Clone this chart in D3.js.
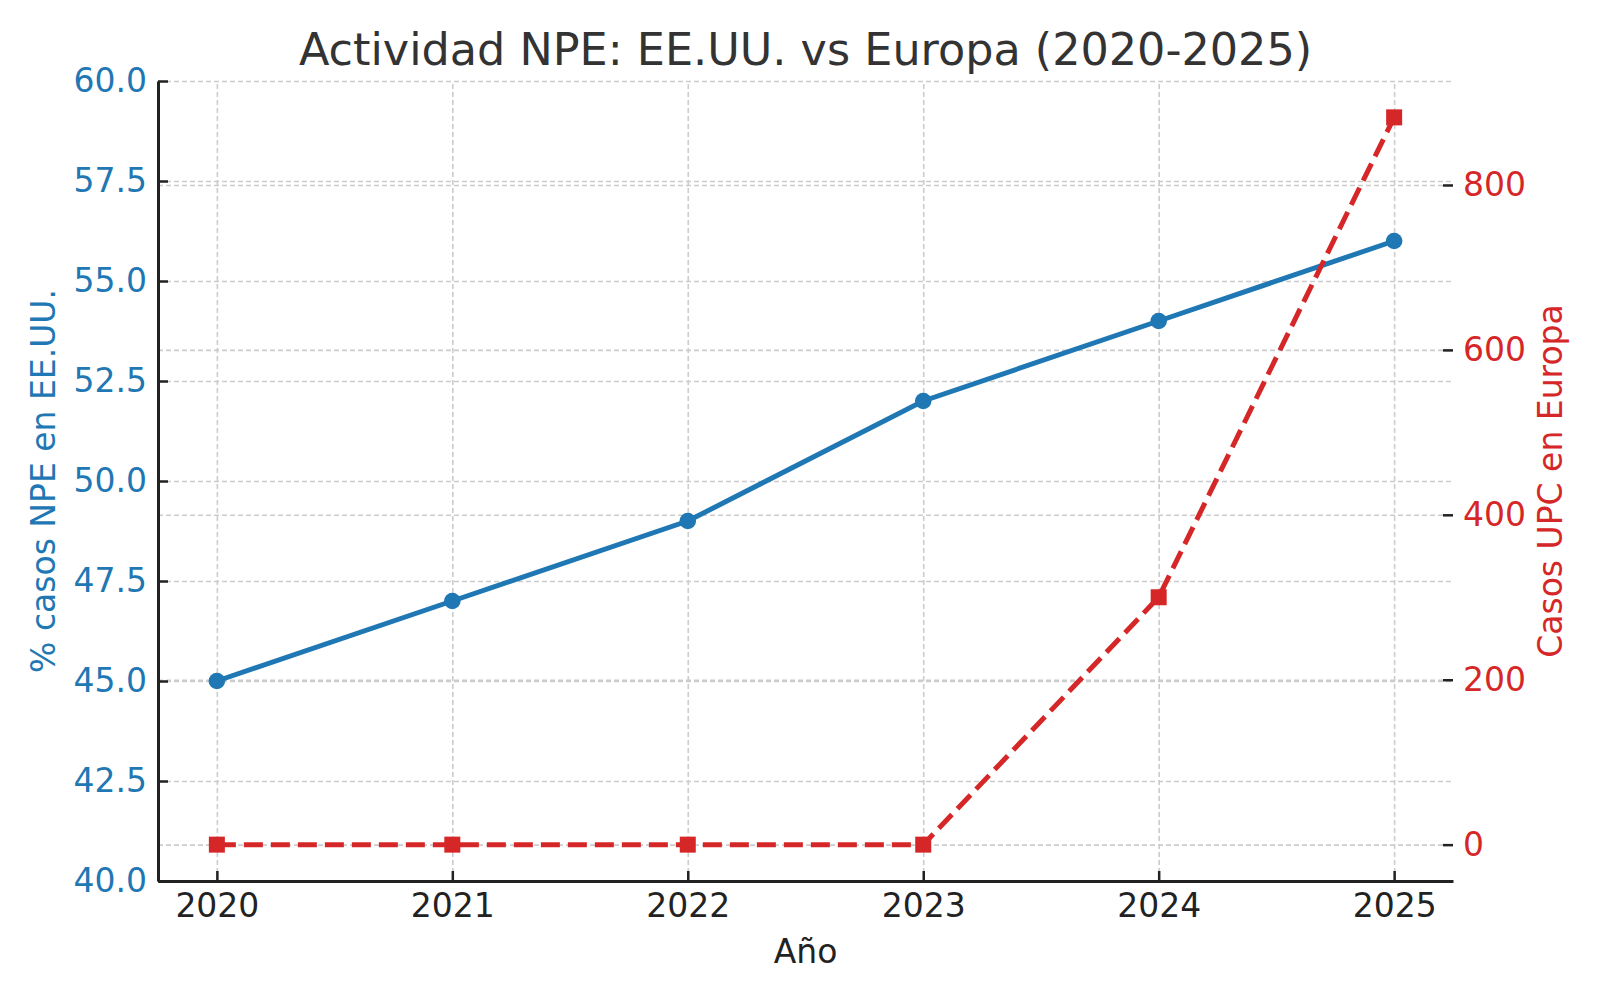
<!DOCTYPE html>
<html>
<head>
<meta charset="utf-8">
<script src="https://cdn.jsdelivr.net/npm/d3@7"></script>
<style>
  body { margin: 0; background: #fff; }
  svg text { font-family: "DejaVu Sans", sans-serif; }
  .grid line { stroke: #cccccc; stroke-width: 1.6; stroke-dasharray: 5,3; }
  .grid path { display: none; }
</style>
</head>
<body>
<svg id="chart"></svg>
<script>
// datos
const years = [2020, 2021, 2022, 2023, 2024, 2025];
const npeUS = [45, 47, 49, 52, 54, 56];
const upcEU = [0, 0, 0, 0, 300, 882];
const leftTicks = [40, 42.5, 45, 47.5, 50, 52.5, 55, 57.5, 60];
const rightTicks = [0, 200, 400, 600, 800];

const width = 1600, height = 1000;
const pLeft = 158, pRight = 1453, pTop = 81, pBottom = 881;
const blue = "#1f77b4", red = "#d62728";

const svg = d3.select("#chart").attr("width", width).attr("height", height);

const x = d3.scaleLinear().domain([2019.75, 2025.25]).range([pLeft, pRight]);
const yL = d3.scaleLinear().domain([40, 60]).range([pBottom, pTop]);
const rMax = d3.max(upcEU), rMin = d3.min(upcEU), pad = (rMax - rMin) * 0.05;
const yR = d3.scaleLinear().domain([rMin - pad, rMax + pad]).range([pBottom, pTop]);

// grid
svg.append("g").attr("class", "grid")
  .attr("transform", `translate(0,${pBottom})`)
  .call(d3.axisBottom(x).tickValues(years).tickSize(-(pBottom - pTop)).tickFormat(""));
svg.append("g").attr("class", "grid")
  .attr("transform", `translate(${pLeft},0)`)
  .call(d3.axisLeft(yL).tickValues(leftTicks).tickSize(-(pRight - pLeft)).tickFormat(""));
svg.append("g").attr("class", "grid")
  .attr("transform", `translate(${pLeft},0)`)
  .call(d3.axisLeft(yR).tickValues(rightTicks).tickSize(-(pRight - pLeft)).tickFormat(""));

// ejes
const xAxis = svg.append("g")
  .attr("transform", `translate(0,${pBottom})`)
  .call(d3.axisBottom(x).tickValues(years).tickFormat(d3.format("d")).tickSize(-10).tickSizeOuter(0).tickPadding(13));
xAxis.selectAll("text").attr("fill", "#222").style("font-size", "33px");

const yAxisL = svg.append("g")
  .attr("transform", `translate(${pLeft},0)`)
  .call(d3.axisLeft(yL).tickValues(leftTicks).tickFormat(d3.format(".1f")).tickSize(-10).tickSizeOuter(0).tickPadding(11));
yAxisL.selectAll("text").attr("fill", blue).style("font-size", "33px");

const yAxisR = svg.append("g")
  .attr("transform", `translate(${pRight},0)`)
  .call(d3.axisRight(yR).tickValues(rightTicks).tickFormat(d3.format("d")).tickSize(-10).tickPadding(10));
yAxisR.select(".domain").remove();
yAxisR.selectAll("text").attr("fill", red).style("font-size", "33px");

[xAxis, yAxisL, yAxisR].forEach(a => {
  a.selectAll("line").attr("stroke", "#222").attr("stroke-width", 2.5);
  a.select(".domain").attr("stroke", "#222").attr("stroke-width", 3);
});

// lineas
const lineUS = d3.line().x((d, i) => x(years[i])).y(d => yL(d));
svg.append("path").datum(npeUS)
  .attr("d", lineUS).attr("fill", "none").attr("stroke", blue).attr("stroke-width", 5);
svg.selectAll(".dotUS").data(npeUS).enter().append("circle")
  .attr("cx", (d, i) => x(years[i])).attr("cy", d => yL(d)).attr("r", 8.3).attr("fill", blue);

const lineEU = d3.line().x((d, i) => x(years[i])).y(d => yR(d));
svg.append("path").datum(upcEU)
  .attr("d", lineEU).attr("fill", "none").attr("stroke", red).attr("stroke-width", 5)
  .attr("stroke-dasharray", "19,8");
svg.selectAll(".sqEU").data(upcEU).enter().append("rect")
  .attr("x", (d, i) => x(years[i]) - 8).attr("y", d => yR(d) - 8)
  .attr("width", 16).attr("height", 16).attr("fill", red);

// textos
svg.append("text").attr("x", (pLeft + pRight) / 2).attr("y", 65)
  .attr("text-anchor", "middle").attr("fill", "#333").style("font-size", "44.5px")
  .text("Actividad NPE: EE.UU. vs Europa (2020-2025)");
svg.append("text").attr("x", (pLeft + pRight) / 2).attr("y", 963)
  .attr("text-anchor", "middle").attr("fill", "#222").style("font-size", "33px")
  .text("Año");
svg.append("text").attr("transform", `translate(55,${(pTop + pBottom) / 2}) rotate(-90)`)
  .attr("text-anchor", "middle").attr("fill", blue).style("font-size", "33px")
  .text("% casos NPE en EE.UU.");
svg.append("text").attr("transform", `translate(1562,${(pTop + pBottom) / 2}) rotate(-90)`)
  .attr("text-anchor", "middle").attr("fill", red).style("font-size", "33px")
  .text("Casos UPC en Europa");
</script>
</body>
</html>
